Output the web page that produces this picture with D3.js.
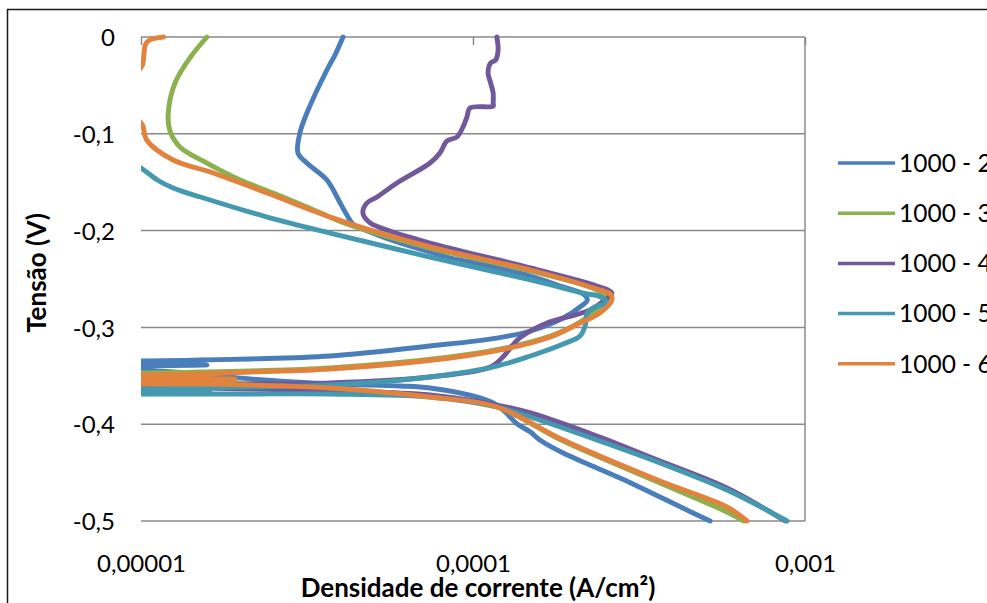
<!DOCTYPE html>
<html>
<head>
<meta charset="utf-8">
<script src="https://cdn.jsdelivr.net/npm/d3@7"></script>
<style>
  body { margin: 0; background: #fff; }
  svg { display: block; }
  text { font-family: Lato, "Open Sans", sans-serif; fill: #000; }
</style>
</head>
<body>
<svg id="chart" width="987" height="603"></svg>
<script>
// Polarization curves: potential (V) against current density (A/cm²)
const seriesNames = ["1000 - 2", "1000 - 3", "1000 - 4", "1000 - 5", "1000 - 6"];

// each scan runs from the cathodic end (-0,5 V) up through the corrosion potential to 0 V
const potential_2 = [-0.5, -0.4917, -0.4752, -0.4556, -0.4421, -0.4298, -0.4163, -0.4081, -0.3998, -0.3874, -0.3802, -0.3729, -0.3626, -0.3605, -0.3585, -0.3533, -0.3481, -0.3450, -0.3440,
  -0.3419, -0.3388, -0.3368,
  -0.3347, -0.3337, -0.3326, -0.3295, -0.3192, -0.3110, -0.3037, -0.2903, -0.2789, -0.2717, -0.2655, -0.2572, -0.2469, -0.2345, -0.2283, -0.2221, -0.2128, -0.2014, -0.1932, -0.1839, -0.1715, -0.1477, -0.1302, -0.1198, -0.0992, -0.0785, -0.0341, -0.0186, 0];
const current_2 = [5.18e-4, 4.60e-4, 3.66e-4, 2.77e-4, 2.25e-4, 1.87e-4, 1.59e-4, 1.49e-4, 1.36e-4, 1.25e-4, 1.18e-4, 1.05e-4, 7.42e-5, 6.03e-5, 3.71e-5, 2.13e-5, 1.51e-5, 1.14e-5, 1.03e-5,
  1e-6, 1.58e-5, 1e-6,
  1.03e-5, 1.51e-5, 2.13e-5, 3.71e-5, 7.42e-5, 1.18e-4, 1.49e-4, 1.87e-4, 2.10e-4, 2.21e-4, 2.15e-4, 1.83e-4, 1.49e-4, 1.05e-4, 8.53e-5, 7.42e-5, 6.03e-5, 4.90e-5, 4.35e-5, 4.17e-5, 3.98e-5, 3.63e-5, 3.16e-5, 2.97e-5, 3.01e-5, 3.16e-5, 3.63e-5, 3.84e-5, 4.06e-5];

const potential_3 = [-0.5, -0.4886, -0.4607, -0.4174, -0.3822, -0.3709, -0.3636, -0.3585, -0.3554, -0.3543, -0.3533,
  -0.3502,
  -0.3471, -0.3461, -0.3450, -0.3419, -0.3306, -0.3223, -0.3089, -0.2944, -0.2789, -0.2696, -0.2614, -0.2417, -0.2180, -0.1932, -0.1756, -0.1612, -0.1477, -0.1302, -0.1136, -0.0961, -0.0754, -0.0465, -0.0207, 0];
const current_3 = [6.55e-4, 5.65e-4, 3.66e-4, 1.87e-4, 1.18e-4, 7.42e-5, 3.71e-5, 2.13e-5, 1.51e-5, 1.14e-5, 1.03e-5,
  1e-6,
  1.03e-5, 1.51e-5, 2.13e-5, 3.71e-5, 8.53e-5, 1.21e-4, 1.71e-4, 2.10e-4, 2.41e-4, 2.53e-4, 2.36e-4, 1.49e-4, 7.42e-5, 4.17e-5, 3.16e-5, 2.50e-5, 1.99e-5, 1.58e-5, 1.31e-5, 1.22e-5, 1.21e-5, 1.27e-5, 1.41e-5, 1.58e-5];

const potential_4 = [-0.5, -0.4659, -0.4380, -0.4122, -0.3884, -0.3802, -0.3698, -0.3657, -0.3636, -0.3626, -0.3626, -0.3626,
  -0.3605,
  -0.3595, -0.3595, -0.3585, -0.3574, -0.3512, -0.3409, -0.3306, -0.3130, -0.3037, -0.2955, -0.2820, -0.2717, -0.2645, -0.2583, -0.2386, -0.2128, -0.1994, -0.1921, -0.1818, -0.1715, -0.1653, -0.1508, -0.1302, -0.1198, -0.1074, -0.1033, -0.0930, -0.0826, -0.0733, -0.0713, -0.0682, -0.0579, -0.0475, -0.0372, -0.0269, -0.0238, -0.0134, 0];
const current_4 = [8.71e-4, 5.82e-4, 3.66e-4, 2.36e-4, 1.49e-4, 1.18e-4, 7.42e-5, 3.71e-5, 2.13e-5, 1.51e-5, 1.14e-5, 1.03e-5,
  1e-6,
  1.03e-5, 1.51e-5, 2.13e-5, 3.71e-5, 7.42e-5, 1.13e-4, 1.23e-4, 1.36e-4, 1.49e-4, 1.67e-4, 2.25e-4, 2.50e-4, 2.62e-4, 2.41e-4, 1.49e-4, 7.42e-5, 5.51e-5, 4.90e-5, 4.66e-5, 4.79e-5, 5.14e-5, 5.90e-5, 7.42e-5, 7.95e-5, 8.35e-5, 8.95e-5, 9.33e-5, 9.59e-5, 9.80e-5, 1.15e-4, 1.15e-4, 1.15e-4, 1.13e-4, 1.11e-4, 1.13e-4, 1.17e-4, 1.19e-4, 1.18e-4];

const potential_5 = [-0.5, -0.4680, -0.4401, -0.4163, -0.3926, -0.3822, -0.3719, -0.3688, -0.3688, -0.3688, -0.3688,
  -0.3667, -0.3657, -0.3647,
  -0.3636, -0.3626, -0.3616, -0.3595, -0.3512, -0.3399, -0.3295, -0.3171, -0.3089, -0.2975, -0.2851, -0.2789, -0.2748, -0.2686, -0.2645, -0.2510, -0.2273, -0.2025, -0.1860, -0.1653, -0.1560, -0.1477, -0.1353, -0.1271];
const current_5 = [8.83e-4, 5.82e-4, 3.66e-4, 2.36e-4, 1.49e-4, 1.18e-4, 7.42e-5, 3.71e-5, 2.13e-5, 1.51e-5, 1.03e-5,
  1e-6, 1.61e-5, 1e-6,
  1.03e-5, 1.51e-5, 2.13e-5, 3.71e-5, 7.42e-5, 1.18e-4, 1.49e-4, 1.87e-4, 2.10e-4, 2.18e-4, 2.21e-4, 2.33e-4, 2.53e-4, 2.43e-4, 2.15e-4, 1.49e-4, 7.42e-5, 3.71e-5, 2.40e-5, 1.51e-5, 1.25e-5, 1.12e-5, 1.00e-5, 8.95e-6];

const potential_6 = [-0.5, -0.4855, -0.4587, -0.4163, -0.3822, -0.3719, -0.3626, -0.3595, -0.3585, -0.3585,
  -0.3564, -0.3533, -0.3512,
  -0.3492, -0.3481, -0.3461, -0.3430, -0.3316, -0.3233, -0.3099, -0.2955, -0.2851, -0.2717, -0.2655, -0.2603, -0.2407, -0.2169, -0.1860, -0.1612, -0.1405, -0.1271, -0.1064, -0.0909, -0.0754, -0.0496, -0.0289, -0.0186, -0.0083, -0.0031, 0];
const current_6 = [6.69e-4, 5.82e-4, 3.66e-4, 1.87e-4, 1.18e-4, 7.42e-5, 3.71e-5, 2.13e-5, 1.51e-5, 1.03e-5,
  1e-6, 1.92e-5, 1e-6,
  1.03e-5, 1.51e-5, 2.13e-5, 3.71e-5, 8.53e-5, 1.21e-4, 1.71e-4, 2.10e-4, 2.41e-4, 2.62e-4, 2.59e-4, 2.36e-4, 1.49e-4, 7.42e-5, 3.71e-5, 2.40e-5, 1.65e-5, 1.25e-5, 1.04e-5, 1.01e-5, 9.27e-6, 9.14e-6, 1.01e-5, 1.02e-5, 1.03e-5, 1.06e-5, 1.17e-5];

const potentials = [potential_2, potential_3, potential_4, potential_5, potential_6];
const currents = [current_2, current_3, current_4, current_5, current_6];

const seriesColors = ["#4A7EBB", "#8BB04E", "#71589A", "#4399B0", "#E2823C"];

const yTicks = [0, -0.1, -0.2, -0.3, -0.4, -0.5];
const yTickLabels = ["0", "-0,1", "-0,2", "-0,3", "-0,4", "-0,5"];
const xTicks = [1e-5, 1e-4, 1e-3];
const xTickLabels = ["0,00001", "0,0001", "0,001"];
const xTitle = "Densidade de corrente (A/cm²)";
const yTitle = "Tensão (V)";

const svg = d3.select("#chart");
const plot = { left: 141, right: 805, top: 37, bottom: 521 };

const x = d3.scaleLog().domain([1e-5, 1e-3]).range([plot.left, plot.right]);
const y = d3.scaleLinear().domain([0, -0.5]).range([plot.top, plot.bottom]);

// outer chart frame
svg.append("rect")
  .attr("x", 7.5).attr("y", 9.5).attr("width", 1000).attr("height", 700)
  .attr("fill", "none").attr("stroke", "#1a1a1a").attr("stroke-width", 1.5);

// horizontal gridlines
svg.append("g").selectAll("line").data(yTicks).join("line")
  .attr("x1", plot.left).attr("x2", plot.right)
  .attr("y1", d => y(d)).attr("y2", d => y(d))
  .attr("stroke", "#8a8a8a").attr("stroke-width", 1.5);

// vertical axis line on the right edge
svg.append("line")
  .attr("x1", plot.right).attr("x2", plot.right)
  .attr("y1", plot.top).attr("y2", plot.bottom)
  .attr("stroke", "#8a8a8a").attr("stroke-width", 1.5);

// tick marks of the horizontal axis (crossing at 0 V)
const xTickAxis = svg.append("g")
  .attr("transform", `translate(0,${plot.top})`)
  .call(d3.axisBottom(x).tickValues(xTicks).tickSize(8).tickFormat(""));
xTickAxis.select(".domain").remove();
xTickAxis.selectAll("line").attr("stroke", "#8a8a8a").attr("stroke-width", 1.5);

// y tick labels
const yAxis = svg.append("g")
  .attr("transform", `translate(${plot.left},0)`)
  .call(d3.axisLeft(y).tickValues(yTicks).tickSize(0).tickPadding(26)
    .tickFormat((d, i) => yTickLabels[i]));
yAxis.select(".domain").remove();
yAxis.selectAll("text")
  .attr("font-family", "Lato, 'Open Sans', sans-serif")
  .attr("font-size", 24).attr("fill", "#000").attr("dy", "0.36em");

// x tick labels (placed low)
const xAxis = svg.append("g")
  .attr("transform", `translate(0,${plot.bottom})`)
  .call(d3.axisBottom(x).tickValues(xTicks).tickSize(0).tickPadding(0)
    .tickFormat((d, i) => xTickLabels[i]));
xAxis.select(".domain").remove();
xAxis.selectAll("text")
  .attr("font-family", "Lato, 'Open Sans', sans-serif")
  .attr("font-size", 24).attr("fill", "#000").attr("dy", null).attr("y", 51);

// curves
svg.append("defs").append("clipPath").attr("id", "plot-clip")
  .append("rect")
  .attr("x", plot.left).attr("y", plot.top - 3)
  .attr("width", plot.right - plot.left).attr("height", plot.bottom - plot.top + 6);

const line = d3.line()
  .x(d => x(d[1]))
  .y(d => y(d[0]))
  .curve(d3.curveCatmullRom.alpha(0.5));

const curves = svg.append("g").attr("clip-path", "url(#plot-clip)");
seriesNames.forEach((name, k) => {
  const pts = potentials[k].map((v, j) => [v, currents[k][j]]);
  curves.append("path")
    .attr("d", line(pts))
    .attr("fill", "none")
    .attr("stroke", seriesColors[k])
    .attr("stroke-width", 4.9)
    .attr("stroke-linejoin", "round")
    .attr("stroke-linecap", "round");
});

// legend
const legend = svg.append("g");
seriesNames.forEach((name, k) => {
  const ly = 163 + k * 50.2;
  legend.append("line")
    .attr("x1", 838).attr("x2", 895).attr("y1", ly).attr("y2", ly)
    .attr("stroke", seriesColors[k]).attr("stroke-width", 3.5);
  legend.append("text")
    .attr("x", 899).attr("y", ly).attr("dy", "0.36em")
    .attr("font-size", 24.5)
    .text(name);
});

// axis titles
svg.append("text")
  .attr("x", 478).attr("y", 597)
  .attr("text-anchor", "middle")
  .attr("font-weight", "bold").attr("font-size", 26)
  .text(xTitle);

svg.append("text")
  .attr("transform", "translate(46,273) rotate(-90)")
  .attr("text-anchor", "middle")
  .attr("font-weight", "bold").attr("font-size", 26)
  .text(yTitle);
</script>
</body>
</html>
